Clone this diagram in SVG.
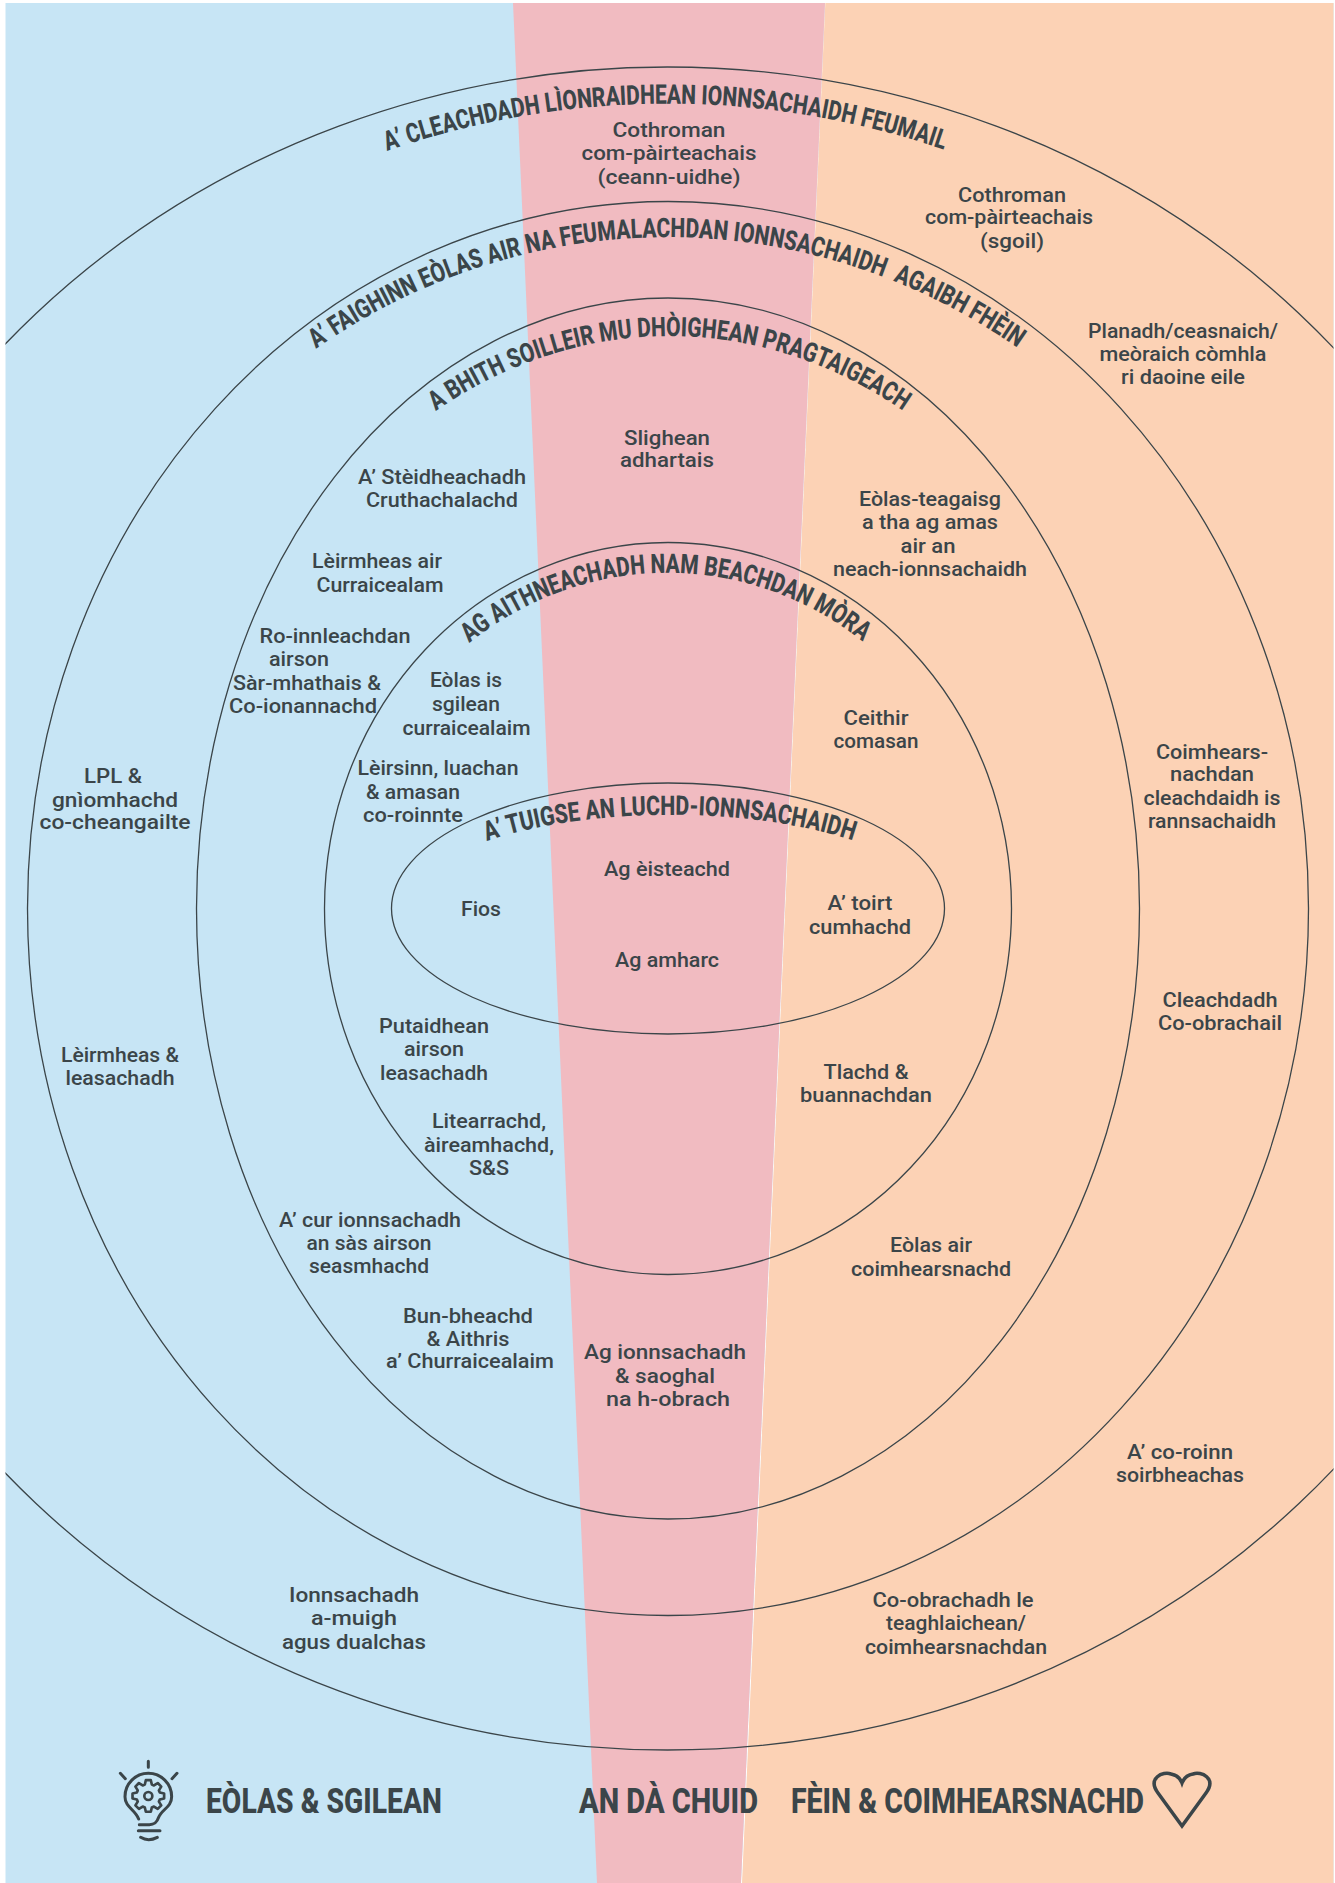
<svg xmlns="http://www.w3.org/2000/svg" width="1335" height="1883" viewBox="0 0 1335 1883">
<style>
text{font-family:"Roboto","Liberation Sans",sans-serif;fill:#3b4549;text-anchor:middle;font-size:21px;font-weight:500}
.t{font-weight:800;font-size:27px;text-anchor:start}
.h{font-weight:800;font-size:35px;text-anchor:start}
.r{fill:none;stroke:#3b4549;stroke-width:1.3}
.i{fill:none;stroke:#3b4549;stroke-width:9;stroke-linecap:round;stroke-linejoin:round}
</style>
<defs>
<clipPath id="page"><rect x="5.500" y="3" width="1328" height="1880"/></clipPath>
<path id="p1" d="M387 151A830 804 0 0 1 948 151"/>
<path id="p2" d="M314.500 350A636 671 0 0 1 1020.500 350"/>
<path id="p3" d="M430 415A472 571 0 0 1 909 415"/>
<path id="p4" d="M467 645A323 336 0 0 1 867 645"/>
<path id="p5" d="M487 841A264 93 0 0 1 854 841"/>
</defs>
<g id="background">
<rect x="5.500" y="3" width="1328" height="1880" fill="#c7e5f5"/>
<polygon points="825,3 1333.500,3 1333.500,1883 741.600,1883" fill="#fcd2b5"/>
<polygon points="825,3 741,1883 742,1883 825.300,3" fill="#fff"/>
<polygon points="513,3 825,3 741,1883 597,1883" fill="#f1bbc1"/>
</g>
<g id="connectors" clip-path="url(#page)">
<ellipse class="r" cx="667.500" cy="908.500" rx="893" ry="841.500"/>
<ellipse class="r" cx="668" cy="908.500" rx="640.500" ry="707"/>
<ellipse class="r" cx="668" cy="908.500" rx="471.500" ry="610.500"/>
<ellipse class="r" cx="668" cy="908.500" rx="343.500" ry="366"/>
<ellipse class="r" cx="668" cy="908.500" rx="276.500" ry="125.500"/>
</g>
<g id="titles">
<text class="t" textLength="567" lengthAdjust="spacingAndGlyphs"><textPath href="#p1">A’ CLEACHDADH LÌONRAIDHEAN IONNSACHAIDH FEUMAIL</textPath></text>
<text class="t" textLength="747" lengthAdjust="spacingAndGlyphs"><textPath href="#p2" startOffset="2">A’ FAIGHINN EÒLAS AIR NA FEUMALACHDAN IONNSACHAIDH&#160; AGAIBH FHÈIN</textPath></text>
<text class="t" textLength="498" lengthAdjust="spacingAndGlyphs"><textPath href="#p3" startOffset="7">A BHITH SOILLEIR MU DHÒIGHEAN PRAGTAIGEACH</textPath></text>
<text class="t" textLength="425" lengthAdjust="spacingAndGlyphs"><textPath href="#p4" startOffset="3">AG AITHNEACHADH NAM BEACHDAN MÒRA</textPath></text>
<text class="t" textLength="371" lengthAdjust="spacingAndGlyphs"><textPath href="#p5">A’ TUIGSE AN LUCHD-IONNSACHAIDH</textPath></text>
</g>
<g id="n1"><text x="669" y="137" textLength="113" lengthAdjust="spacingAndGlyphs">Cothroman</text><text x="669" y="159.500" textLength="175" lengthAdjust="spacingAndGlyphs">com-pàirteachais</text><text x="669" y="183.500" textLength="143" lengthAdjust="spacingAndGlyphs">(ceann-uidhe)</text></g>
<g id="n2"><text x="1012" y="201.500" textLength="108" lengthAdjust="spacingAndGlyphs">Cothroman</text><text x="1009" y="224.300" textLength="168" lengthAdjust="spacingAndGlyphs">com-pàirteachais</text><text x="1012" y="248.300" textLength="64" lengthAdjust="spacingAndGlyphs">(sgoil)</text></g>
<g id="n3"><text x="1183" y="338.300" textLength="190" lengthAdjust="spacingAndGlyphs">Planadh/ceasnaich/</text><text x="1183" y="361" textLength="167" lengthAdjust="spacingAndGlyphs">meòraich còmhla</text><text x="1183" y="384" textLength="124" lengthAdjust="spacingAndGlyphs">ri daoine eile</text></g>
<g id="n4"><text x="667" y="445" textLength="86" lengthAdjust="spacingAndGlyphs">Slighean</text><text x="667" y="467" textLength="94" lengthAdjust="spacingAndGlyphs">adhartais</text></g>
<g id="n5"><text x="930" y="506.400" textLength="142" lengthAdjust="spacingAndGlyphs">Eòlas-teagaisg</text><text x="930" y="529" textLength="136" lengthAdjust="spacingAndGlyphs">a tha ag amas</text><text x="928" y="553" textLength="55" lengthAdjust="spacingAndGlyphs">air an</text><text x="930" y="576" textLength="194" lengthAdjust="spacingAndGlyphs">neach-ionnsachaidh</text></g>
<g id="n6"><text x="442" y="483.600" textLength="168" lengthAdjust="spacingAndGlyphs">A’ Stèidheachadh</text><text x="442" y="506.900" textLength="152" lengthAdjust="spacingAndGlyphs">Cruthachalachd</text></g>
<g id="n7"><text x="377" y="567.600" textLength="130" lengthAdjust="spacingAndGlyphs">Lèirmheas air</text><text x="380" y="591.600" textLength="127" lengthAdjust="spacingAndGlyphs">Curraicealam</text></g>
<g id="n8"><text x="335" y="643.300" textLength="151" lengthAdjust="spacingAndGlyphs">Ro-innleachdan</text><text x="299" y="666" textLength="60" lengthAdjust="spacingAndGlyphs">airson</text><text x="307" y="689.500" textLength="148" lengthAdjust="spacingAndGlyphs">Sàr-mhathais &amp;</text><text x="303" y="713" textLength="148" lengthAdjust="spacingAndGlyphs">Co-ionannachd</text></g>
<g id="n9"><text x="466" y="686.500" textLength="72" lengthAdjust="spacingAndGlyphs">Eòlas is</text><text x="466" y="711" textLength="68" lengthAdjust="spacingAndGlyphs">sgilean</text><text x="466.500" y="734.500" textLength="128" lengthAdjust="spacingAndGlyphs">curraicealaim</text></g>
<g id="n10"><text x="438" y="775.300" textLength="161" lengthAdjust="spacingAndGlyphs">Lèirsinn, luachan</text><text x="413" y="799.300" textLength="94" lengthAdjust="spacingAndGlyphs">&amp; amasan</text><text x="413" y="822" textLength="100" lengthAdjust="spacingAndGlyphs">co-roinnte</text></g>
<g id="n11"><text x="876" y="725" textLength="65" lengthAdjust="spacingAndGlyphs">Ceithir</text><text x="876" y="748" textLength="85" lengthAdjust="spacingAndGlyphs">comasan</text></g>
<g id="n12"><text x="667" y="876" textLength="126" lengthAdjust="spacingAndGlyphs">Ag èisteachd</text></g>
<g id="n13"><text x="481" y="916" textLength="40" lengthAdjust="spacingAndGlyphs">Fios</text></g>
<g id="n14"><text x="860" y="910" textLength="65" lengthAdjust="spacingAndGlyphs">A’ toirt</text><text x="860" y="934" textLength="102" lengthAdjust="spacingAndGlyphs">cumhachd</text></g>
<g id="n15"><text x="667" y="967" textLength="104" lengthAdjust="spacingAndGlyphs">Ag amharc</text></g>
<g id="n16"><text x="113" y="782.500" textLength="58" lengthAdjust="spacingAndGlyphs">LPL &amp;</text><text x="115" y="806.500" textLength="126" lengthAdjust="spacingAndGlyphs">gnìomhachd</text><text x="115" y="829" textLength="151" lengthAdjust="spacingAndGlyphs">co-cheangailte</text></g>
<g id="n17"><text x="1212" y="758.500" textLength="112" lengthAdjust="spacingAndGlyphs">Coimhears-</text><text x="1212" y="781" textLength="84" lengthAdjust="spacingAndGlyphs">nachdan</text><text x="1212" y="805" textLength="137" lengthAdjust="spacingAndGlyphs">cleachdaidh is</text><text x="1212" y="828" textLength="128" lengthAdjust="spacingAndGlyphs">rannsachaidh</text></g>
<g id="n18"><text x="1220" y="1007" textLength="115" lengthAdjust="spacingAndGlyphs">Cleachdadh</text><text x="1220" y="1030" textLength="124" lengthAdjust="spacingAndGlyphs">Co-obrachail</text></g>
<g id="n19"><text x="120" y="1062" textLength="118" lengthAdjust="spacingAndGlyphs">Lèirmheas &amp;</text><text x="120" y="1085" textLength="109" lengthAdjust="spacingAndGlyphs">leasachadh</text></g>
<g id="n20"><text x="434" y="1033.400" textLength="110" lengthAdjust="spacingAndGlyphs">Putaidhean</text><text x="434" y="1056" textLength="60" lengthAdjust="spacingAndGlyphs">airson</text><text x="434" y="1080" textLength="108" lengthAdjust="spacingAndGlyphs">leasachadh</text></g>
<g id="n21"><text x="866" y="1079" textLength="85" lengthAdjust="spacingAndGlyphs">Tlachd &amp;</text><text x="866" y="1102" textLength="132" lengthAdjust="spacingAndGlyphs">buannachdan</text></g>
<g id="n22"><text x="489" y="1128" textLength="114" lengthAdjust="spacingAndGlyphs">Litearrachd,</text><text x="489" y="1152" textLength="130" lengthAdjust="spacingAndGlyphs">àireamhachd,</text><text x="489" y="1175" textLength="40" lengthAdjust="spacingAndGlyphs">S&amp;S</text></g>
<g id="n23"><text x="931" y="1252" textLength="82" lengthAdjust="spacingAndGlyphs">Eòlas air</text><text x="931" y="1276" textLength="160" lengthAdjust="spacingAndGlyphs">coimhearsnachd</text></g>
<g id="n24"><text x="370" y="1227" textLength="182" lengthAdjust="spacingAndGlyphs">A’ cur ionnsachadh</text><text x="369" y="1250" textLength="125" lengthAdjust="spacingAndGlyphs">an sàs airson</text><text x="369" y="1272.500" textLength="120" lengthAdjust="spacingAndGlyphs">seasmhachd</text></g>
<g id="n25"><text x="468" y="1323" textLength="130" lengthAdjust="spacingAndGlyphs">Bun-bheachd</text><text x="468" y="1345.600" textLength="83" lengthAdjust="spacingAndGlyphs">&amp; Aithris</text><text x="470" y="1368" textLength="168" lengthAdjust="spacingAndGlyphs">a’ Churraicealaim</text></g>
<g id="n26"><text x="665" y="1359" textLength="162" lengthAdjust="spacingAndGlyphs">Ag ionnsachadh</text><text x="665" y="1383" textLength="100" lengthAdjust="spacingAndGlyphs">&amp; saoghal</text><text x="668" y="1405.600" textLength="124" lengthAdjust="spacingAndGlyphs">na h-obrach</text></g>
<g id="n27"><text x="1180" y="1459" textLength="106" lengthAdjust="spacingAndGlyphs">A’ co-roinn</text><text x="1180" y="1482.400" textLength="128" lengthAdjust="spacingAndGlyphs">soirbheachas</text></g>
<g id="n28"><text x="354" y="1602" textLength="130" lengthAdjust="spacingAndGlyphs">Ionnsachadh</text><text x="354" y="1625" textLength="86" lengthAdjust="spacingAndGlyphs">a-muigh</text><text x="354" y="1649" textLength="144" lengthAdjust="spacingAndGlyphs">agus dualchas</text></g>
<g id="n29"><text x="953" y="1607" textLength="161" lengthAdjust="spacingAndGlyphs">Co-obrachadh le</text><text x="956" y="1630" textLength="140" lengthAdjust="spacingAndGlyphs">teaghlaichean/</text><text x="956" y="1654" textLength="182" lengthAdjust="spacingAndGlyphs">coimhearsnachdan</text></g>
<g id="legend-eolas">
<g transform="translate(80 1720) scale(.3333)">
<path class="i" d="M205 124V142M121 160L136 176M291 160L276 176"/>
<path class="i" d="M176 297C165 268 135 262 135 230A70 70 0 1 1 275 230C275 262 245 268 236 292C230 310 222 314 208 314H178M175 332H240M182 352Q205 366 232 352"/>
<path class="i" style="stroke-width:8" transform="translate(205 228)" d="M-10.500 -34.400L-7.500 -47.400H7.500L10.500 -34.400L16.900 -31.700L28.200 -38.800L38.800 -28.200L31.700 -16.900L34.400 -10.500L47.400 -7.500V7.500L34.400 10.500L31.700 16.900L38.800 28.200L28.200 38.800L16.900 31.700L10.500 34.400L7.500 47.400H-7.500L-10.500 34.400L-16.900 31.700L-28.200 38.800L-38.800 28.200L-31.700 16.900L-34.400 10.500L-47.400 7.500V-7.500L-34.400 -10.500L-31.700 -16.900L-38.800 -28.200L-28.200 -38.800L-16.900 -31.700Z"/>
<circle class="i" style="stroke-width:8" cx="205" cy="228" r="12"/>
</g>
<text class="h" x="206" y="1813" textLength="236" lengthAdjust="spacingAndGlyphs">EÒLAS &amp; SGILEAN</text>
</g>
<g id="legend-da-chuid"><text class="h" x="579" y="1813" textLength="179" lengthAdjust="spacingAndGlyphs">AN DÀ CHUID</text></g>
<g id="legend-fein">
<text class="h" x="791" y="1813" textLength="353" lengthAdjust="spacingAndGlyphs">FÈIN &amp; COIMHEARSNACHD</text>
<path fill="none" stroke="#3b4549" stroke-width="3.500" stroke-linejoin="miter" d="M1182 1826L1158 1793C1147 1778 1163 1771 1171 1774C1177 1775 1180.500 1779 1182 1783C1183.500 1779 1187 1775 1193 1774C1201 1771 1217 1778 1206 1793Z"/>
</g>
</svg>
